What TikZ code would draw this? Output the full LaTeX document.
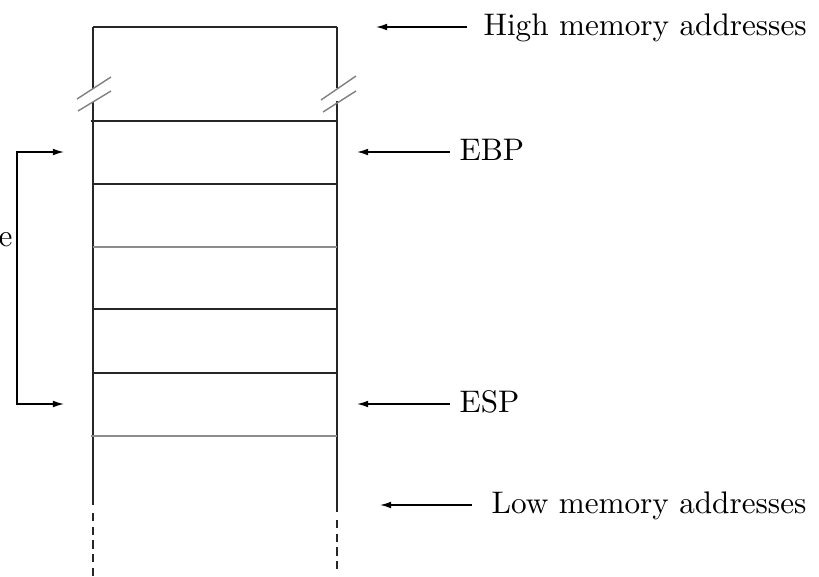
\documentclass[tikz,border=0pt]{standalone}
\usetikzlibrary{arrows.meta}
\begin{document}
\begin{tikzpicture}[x=0.3205pt,y=-0.3205pt,
  wall/.style={line width=0.5pt,black!85},
  sep/.style={line width=0.5pt,black!85},
  sepgray/.style={line width=0.5pt,black!45},
  brk/.style={line width=0.45pt,black!50},
  ptr/.style={line width=0.45pt,-{Latex[length=3.6pt,width=2.2pt]}},
  dashwall/.style={line width=0.5pt,black!85,dash pattern=on 2.6pt off 1.8pt},
  lbl/.style={inner sep=0pt,anchor=base west}]
\useasboundingbox (0,0) rectangle (819,576);
% stack outline
\draw[wall] (93,27) -- (337,27);
\draw[wall] (93,27) -- (93,88.5);
\draw[wall] (93,102) -- (93,505);
\draw[wall] (337,27) -- (337,88);
\draw[wall] (337,101) -- (337,512);
\draw[dashwall] (93,513) -- (93,576);
\draw[dashwall] (337,520) -- (337,572);
% break marks
\draw[brk] (77,99) -- (111,77);
\draw[brk] (78,111) -- (111,91);
\draw[brk] (321,100) -- (356,76);
\draw[brk] (323,112) -- (356,91);
% separators
\draw[sep] (91,121) -- (337,121);
\draw[sep] (93,184) -- (337,184);
\draw[sepgray] (93,247) -- (337,247);
\draw[sep] (93,309) -- (337,309);
\draw[sep] (93,373) -- (337,373);
\draw[sepgray] (91,436) -- (337,436);
% labels
\node[lbl] (high) at (483,35) {High memory addresses};
\node[lbl] (ebp) at (459,160) {EBP};
\node[lbl] (esp) at (459,412) {ESP};
\node[lbl] (low) at (491,513) {Low memory addresses};
\node[inner sep=0pt,anchor=base east] (frm) at (13,246) {e};
% pointer arrows
\coordinate (hightail) at (467,27);
\coordinate (hightip) at (376,27);
\coordinate (ebptail) at (450,152);
\coordinate (ebptip) at (357,152);
\coordinate (esptail) at (450,404);
\coordinate (esptip) at (357,404);
\coordinate (lowtail) at (472,505);
\coordinate (lowtip) at (380,505);
\draw[ptr] (hightail) -- (hightip);
\draw[ptr] (ebptail) -- (ebptip);
\draw[ptr] (esptail) -- (esptip);
\draw[ptr] (lowtail) -- (lowtip);
% frame bracket
\coordinate (bt) at (17,152);
\coordinate (bb) at (17,404);
\coordinate (btip) at (64,152);
\coordinate (bbtip) at (64,404);
\draw[ptr] (bb) -- (bt) -- (btip);
\draw[ptr] (bt) -- (bb) -- (bbtip);
\end{tikzpicture}
\end{document}
